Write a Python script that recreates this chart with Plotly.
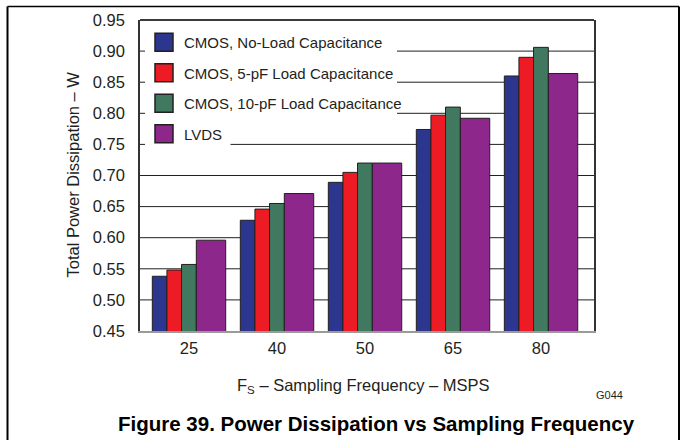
import plotly.graph_objects as go

# ---- data ----
freq_labels = ["25", "40", "50", "65", "80"]
series_names = [
    "CMOS, No-Load Capacitance",
    "CMOS, 5-pF Load Capacitance",
    "CMOS, 10-pF Load Capacitance",
    "LVDS",
]
cmos_no_load = [0.538, 0.628, 0.689, 0.774, 0.860]
cmos_5pf = [0.548, 0.646, 0.705, 0.797, 0.890]
cmos_10pf = [0.557, 0.655, 0.720, 0.810, 0.906]
lvds = [0.596, 0.671, 0.720, 0.792, 0.864]
y_ticks = [0.45, 0.50, 0.55, 0.60, 0.65, 0.70, 0.75, 0.80, 0.85, 0.90, 0.95]

# ---- style ----
colors = ["#2C368F", "#ED1C24", "#407860", "#8E278C"]
offsets = [-0.417, -0.251, -0.085, 0.083]
widths = [0.166, 0.166, 0.168, 0.334]
ink = "#231F20"
font_family = "Liberation Sans, Arial, Helvetica, sans-serif"

# plot-area geometry (pixels)
W, H = 681, 440
L, R, T, B = 140, 87, 20, 109
PW, PH = W - L - R, H - T - B


def px(x):
    return (x - L) / PW


def py(y):
    return (H - B - y) / PH


fig = go.Figure()
all_values = [cmos_no_load, cmos_5pf, cmos_10pf, lvds]
for i, (name, vals) in enumerate(zip(series_names, all_values)):
    fig.add_trace(go.Bar(
        x=freq_labels, y=vals, name=name,
        marker=dict(color=colors[i], line=dict(color=ink, width=1)),
        offset=offsets[i], width=widths[i],
        legendgroup=f"g{i}",
    ))

shapes = []
# gridlines (drawn as shapes so the legend can mask them)
for v in y_ticks[1:-1]:
    shapes.append(dict(type="line", xref="paper", yref="y", x0=0, x1=1, y0=v, y1=v,
                       line=dict(color=ink, width=1), layer="below"))
# white legend masks
shapes.append(dict(type="rect", xref="paper", yref="paper",
                   x0=px(145), x1=px(397), y0=py(124), y1=py(26),
                   fillcolor="white", line=dict(width=0), layer="below"))
shapes.append(dict(type="rect", xref="paper", yref="paper",
                   x0=px(145), x1=px(230.5), y0=py(150), y1=py(26),
                   fillcolor="white", line=dict(width=0), layer="below"))
# top border of plot frame
shapes.append(dict(type="line", xref="paper", yref="paper", x0=0, x1=1, y0=1, y1=1,
                   line=dict(color="#3a3a3a", width=2)))
# outer figure frame
shapes.append(dict(type="line", xref="paper", yref="paper",
                   x0=px(7.5), x1=px(7.5), y0=py(6.5), y1=py(460),
                   line=dict(color="black", width=2)))
shapes.append(dict(type="line", xref="paper", yref="paper",
                   x0=px(679), x1=px(679), y0=py(6.5), y1=py(460),
                   line=dict(color="black", width=2)))
shapes.append(dict(type="line", xref="paper", yref="paper",
                   x0=px(7.5), x1=px(679), y0=py(6.5), y1=py(6.5),
                   line=dict(color="black", width=1.5)))

annotations = [
    dict(text="Total Power Dissipation – W", textangle=-90, x=px(72.5), y=py(175),
         xref="paper", yref="paper", showarrow=False, xanchor="center", yanchor="middle",
         font=dict(size=16.5, color=ink, family=font_family)),
    dict(text="F<sub>S</sub> – Sampling Frequency – MSPS", x=px(363), y=py(386),
         xref="paper", yref="paper", showarrow=False, xanchor="center", yanchor="middle",
         font=dict(size=16.5, color=ink, family=font_family)),
    dict(text="G044", x=px(609.5), y=py(395),
         xref="paper", yref="paper", showarrow=False, xanchor="center", yanchor="middle",
         font=dict(size=11, color=ink, family=font_family)),
    dict(text="<b>Figure 39. Power Dissipation vs Sampling Frequency</b>", x=px(376.5), y=py(423),
         xref="paper", yref="paper", showarrow=False, xanchor="center", yanchor="middle",
         font=dict(size=20.5, color="black", family=font_family)),
]

fig.update_layout(
    width=W, height=H,
    margin=dict(l=L, r=R, t=T, b=B, pad=0),
    paper_bgcolor="white", plot_bgcolor="white",
    barmode="overlay",
    font=dict(family=font_family, color=ink, size=16.5),
    showlegend=True,
    legend=dict(x=px(144), y=py(26), xanchor="left", yanchor="top",
                bgcolor="rgba(0,0,0,0)", borderwidth=0,
                font=dict(size=15, color=ink, family=font_family),
                tracegroupgap=8, traceorder="grouped"),
    xaxis=dict(type="category", range=[-0.557, 4.602], showgrid=False,
               showline=True, linecolor="#9a9a9a", linewidth=2, mirror=False,
               ticks="", ticklabelstandoff=1, tickfont=dict(size=16.5), fixedrange=True),
    yaxis=dict(range=[0.45, 0.95], tickvals=y_ticks, tickformat=".2f", showgrid=False,
               showline=True, linecolor="#333333", linewidth=1.5, mirror=True,
               ticks="", ticklabelstandoff=10, tickfont=dict(size=16.5), zeroline=False,
               fixedrange=True),
    shapes=shapes,
    annotations=annotations,
)

post = (
    "document.body.style.margin='0';document.body.style.padding='0';"
    "document.querySelectorAll('.legend .legendpoints path').forEach(function(p){"
    "var t=p.getAttribute('transform')||'';"
    "p.setAttribute('transform',t+' scale(1.5)');});"
)
fig.write_html("out.html", post_script=post, config={"displayModeBar": False})
